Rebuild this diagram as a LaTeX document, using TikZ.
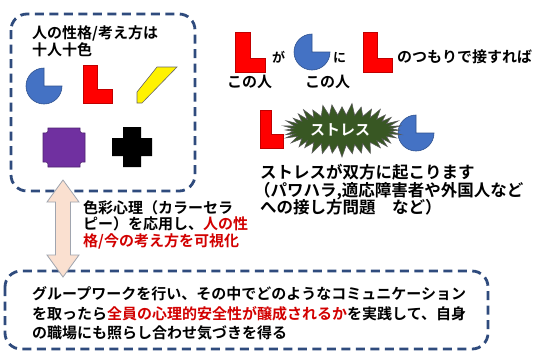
\documentclass[tikz,border=0pt]{standalone}
\usepackage{fontspec}
\setmainfont{Noto Sans CJK JP}[BoldFont={Noto Sans CJK JP Bold}]
\definecolor{boxblue}{RGB}{47,75,125}
\definecolor{pieblue}{RGB}{68,114,196}
\definecolor{pieedge}{RGB}{47,82,143}
\definecolor{lred}{RGB}{255,0,0}
\definecolor{ledge}{RGB}{192,0,0}
\definecolor{txtred}{RGB}{210,0,0}
\definecolor{ppl}{RGB}{112,48,160}
\definecolor{bgreen}{RGB}{56,87,35}
\definecolor{peach}{RGB}{250,224,208}
\definecolor{arrowedge}{RGB}{160,165,175}
\newcommand\mypie[3]{\filldraw[pie] (#1,#2) -- ++(0:#3) arc[start angle=0,end angle=270,radius=#3] -- cycle;}
\newcommand\myell[4]{\filldraw[ell] (#1,#2) -- (#1+0.5*#3,#2) -- (#1+0.5*#3,#2+0.65*#4) -- (#1+#3,#2+0.65*#4) -- (#1+#3,#2+#4) -- (#1,#2+#4) -- cycle;}
\tikzset{
  dashbox/.style={draw=boxblue, line width=2.8pt, dash pattern=on 9pt off 5.5pt, rounded corners=16pt},
  pie/.style={fill=pieblue, draw=pieedge, line width=0.6pt},
  ell/.style={fill=lred, draw=ledge, line width=0.6pt},
  txt/.style={inner sep=0pt, anchor=base west, font=\bfseries\fontsize{15}{18}\selectfont},
  txtb/.style={inner sep=0pt, anchor=base west, font=\bfseries\fontsize{16.5}{18}\selectfont},
  txts/.style={inner sep=0pt, anchor=base west, font=\bfseries\fontsize{13}{15}\selectfont},
}
\begin{document}
\begin{tikzpicture}[x=1pt,y=-1pt]
\useasboundingbox[fill=white] (0,0) rectangle (540,360);

% boxes
\draw[dashbox] (11,14) rectangle (195,191);
\draw[dashbox] (5,271) rectangle (488,349);

% top-left box contents
\node[txt] (t1) at (32,38.7) {人の性格/考え方は};
\node[txt] (t2) at (32,55.7) {十人十色};
\mypie{44}{86}{18}
\myell{83}{65}{29}{38}
\filldraw[fill=yellow, draw=gray!80!black, line width=0.6pt] (137,103) -- (137,92) -- (157,67) -- (177,67) -- (142,103) -- cycle;
\filldraw[fill=ppl, draw=ppl!70!black, line width=0.6pt] (48,128) -- (80,128) .. controls (80,133) .. (85,133) -- (85,162) .. controls (80,162) .. (80,167) -- (48,167) .. controls (48,162) .. (43,162) -- (43,133) .. controls (48,133) .. (48,128) -- cycle;
\fill[black] (123,127) -- (141,127) -- (141,138) -- (152,138) -- (152,156) -- (141,156) -- (141,167) -- (123,167) -- (123,156) -- (112,156) -- (112,138) -- (123,138) -- cycle;

% top-right row
\myell{235}{32}{30}{40}
\node[txts] (ga) at (272,62) {が};
\mypie{312}{52}{18}
\node[txts] (ni) at (333,62) {に};
\myell{363}{32}{29}{40}
\node[txt] (tsumori) at (397,62.7) {のつもりで接すれば};
\node[txt] (kono1) at (227,87.7) {この人};
\node[txt] (kono2) at (305,87.7) {この人};

% stress row
\myell{260}{110}{23}{38}
\mypie{416}{133}{18}
\filldraw[fill=bgreen, draw=black!65, line width=0.6pt] (400,130)
  \foreach \i in {1,...,36} { -- ({342+49*cos((2*\i-1)*5)}, {130+15*sin((2*\i-1)*5)}) -- ({342+(58+2*sin(\i*97))*cos(2*\i*5)}, {130+(25+2*sin(\i*131))*sin(2*\i*5)}) } -- cycle;
\node[inner sep=0pt, text=white, font=\bfseries\fontsize{15}{18}\selectfont] (stress) at (340,130) {ストレス};

\node[txtb] (s1) at (260,178) {ストレスが双方に起こります};
\node[txtb] (s2) at (254,196) {（パワハラ,適応障害者や外国人など};
\node[txtb] (s3) at (260,213) {への接し方問題　など）};

% colour text
\node[txt] (c1) at (83,213) {色彩心理（カラーセラ};
\node[txt] (c2) at (83,229) {ピー）を応用し、\textcolor{txtred}{人の性}};
\node[txt] (c3) at (83,246) {\textcolor{txtred}{格/今の考え方を可視化}};

% double arrow
\filldraw[fill=peach, draw=arrowedge, line width=0.8pt] (63,180) -- (79,202) -- (70.5,202) -- (70.5,255) -- (79,255) -- (63,277) -- (47,255) -- (55.5,255) -- (55.5,202) -- (47,202) -- cycle;

% bottom text
\node[txt] (b1) at (32,299) {グループワークを行い、その中でどのようなコミュニケーション};
\node[txt] (b2) at (32,319) {を取ったら\textcolor{txtred}{全員の心理的安全性が醸成されるか}を実践して、自身};
\node[txt] (b3) at (32,338) {の職場にも照らし合わせ気づきを得る};
\end{tikzpicture}
\end{document}
